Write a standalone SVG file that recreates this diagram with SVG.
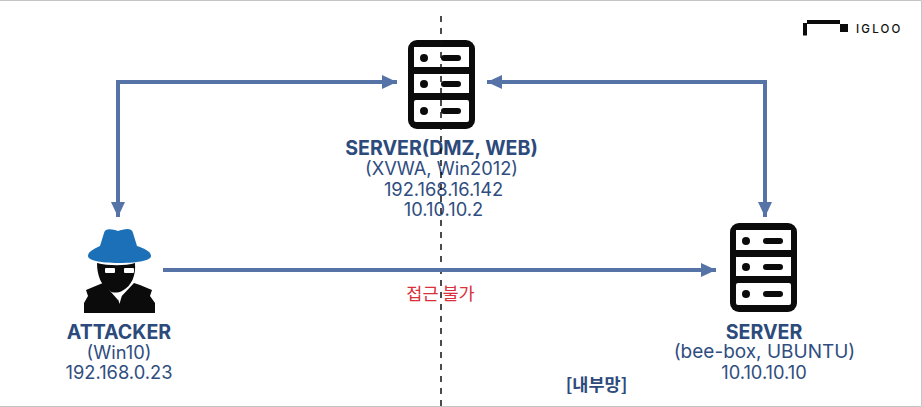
<svg xmlns="http://www.w3.org/2000/svg" width="922" height="407" viewBox="0 0 922 407">
<style>
.t{font-family:"Inter","Noto Sans CJK KR",sans-serif;text-anchor:middle;fill:#2f4d80}
.h{font-size:19.600px;font-weight:700;fill:#2c4a7c}
.n{font-size:18.300px;font-weight:400}
.c{fill:none;stroke:#5673a8;stroke-width:4}
.o{fill:#0b0b0b}
.w{fill:#fff}
</style>
<defs>
<marker id="a" markerUnits="userSpaceOnUse" markerWidth="16" markerHeight="16" refX="15" refY="8" orient="auto-start-reverse"><path d="M0 1L15 8L0 15Z" fill="#5673a8"/></marker>
<g id="srv">
<rect class="o" x="0" y="0" width="67" height="89" rx="9"/>
<rect class="w" x="6" y="7" width="55" height="20"/>
<rect class="w" x="6" y="34" width="55" height="19"/>
<rect class="w" x="6" y="60" width="55" height="22" rx="2"/>
<circle class="o" cx="16" cy="18" r="4"/><circle class="o" cx="16" cy="44" r="4"/><circle class="o" cx="16" cy="71" r="4"/>
<rect class="o" x="33" y="15" width="20" height="6" rx="3"/><rect class="o" x="33" y="41" width="20" height="6" rx="3"/><rect class="o" x="33" y="68" width="20" height="6" rx="3"/>
</g>
</defs>
<rect width="922" height="407" fill="#fff"/>
<path d="M0 .5H921.500V406.500H0" fill="none" stroke="#c4c4c4"/>
<g id="server-dmz">
<use href="#srv" x="408" y="40"/>
<text class="t h" x="441.500" y="155">SERVER(DMZ, WEB)</text>
<text class="t n" x="441.500" y="175">(XVWA, Win2012)</text>
<text class="t n" x="443.500" y="196">192.168.16.142</text>
<text class="t n" x="443.500" y="216">10.10.10.2</text>
</g>
<g id="attacker">
<path fill="#1c70b8" d="M88 256C88 251 96 248 100 246L104 233C105 228 112 229 118 231C124 229 132 227 133 233L137 246C143 248 151 251 151 256C151 260 140 263 119 263C99 263 88 260 88 256Z"/>
<path class="o" d="M84 313V303L88 296L86 290L98 285L103 283L118 300L134 283L140 285L152 290L150 296L155 303V313Z"/>
<path class="o" d="M97 263C108 266 126 266 135 263C136 275 132 286 122 291C118 293 112 293 110 291C101 286 97 275 97 263Z"/>
<rect class="w" x="105" y="268" width="10" height="5" rx="1"/><rect class="w" x="124" y="268" width="10" height="5" rx="1"/>
<path class="w" d="M117 295H122L119.500 304Z"/>
<text class="t h" x="119" y="339">ATTACKER</text>
<text class="t n" x="119" y="359">(Win10)</text>
<text class="t n" x="119" y="379">192.168.0.23</text>
</g>
<g id="server">
<use href="#srv" x="730" y="223"/>
<text class="t h" x="764" y="339">SERVER</text>
<text class="t n" x="764.500" y="358" font-size="19" style="font-size:19px">(bee-box, UBUNTU)</text>
<text class="t n" x="764" y="379">10.10.10.10</text>
</g>
<g id="connectors">
<path d="M441 16V407" fill="none" stroke="#111" stroke-width="1.500" stroke-dasharray="6 6"/>
<path class="c" d="M397 82H118V217" marker-start="url(#a)" marker-end="url(#a)"/>
<path class="c" d="M487 82H765V217" marker-start="url(#a)" marker-end="url(#a)"/>
<path class="c" d="M163 270H716" marker-end="url(#a)"/>
</g>
<g id="labels">
<text x="440.500" y="300" font-family="'Noto Sans CJK KR',sans-serif" font-size="17.500" fill="#d9303a" text-anchor="middle">접근 불가</text>
<text x="596.500" y="391" font-family="'Noto Sans CJK KR',sans-serif" font-size="17.500" font-weight="700" fill="#2c4a7c" text-anchor="middle">[내부망]</text>
</g>
<g id="logo">
<path class="o" d="M803 23H807V35.500H803ZM807 20H840V24H807ZM840 24H848V32H840Z"/>
<text x="856" y="32.500" font-family="'Inter',sans-serif" font-size="11.500" font-weight="500" letter-spacing="2.200" fill="#111">IGLOO</text>
</g>
</svg>
